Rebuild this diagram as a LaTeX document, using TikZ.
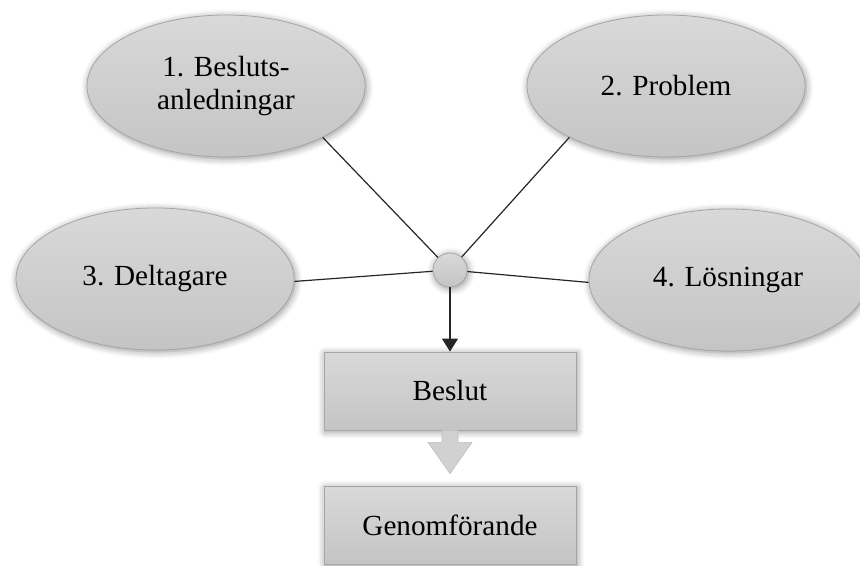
\documentclass[tikz,border=0pt]{standalone}
\usepackage{fontspec}
\setmainfont{Liberation Serif}
\usetikzlibrary{arrows.meta,calc,shapes.geometric,shadows.blur}

\begin{document}
\begin{tikzpicture}[x=0.5pt, y=-0.5pt,
  every node/.style={font=\fontsize{14.6}{16.5}\selectfont},
  soft/.style={draw=black!35, line width=0.4pt, top color=black!15, bottom color=black!23,
    blur shadow={shadow xshift=0.6pt, shadow yshift=-0.8pt, shadow blur radius=3.5pt, shadow opacity=45}},
  oval/.style={soft, ellipse, minimum width=139pt, minimum height=71pt, inner sep=0pt, align=center},
  box/.style={soft, rectangle, minimum width=126pt, minimum height=39pt},
  link/.style={draw=black!85, line width=0.6pt}]
\useasboundingbox (0,0) rectangle (860,566);
\node[oval] (anl) at (226,86) {1. Besluts-\\anledningar};
\node[oval] (prob) at (666,86) {2. Problem};
\node[oval] (delt) at (155,279) {3. Deltagare};
\node[oval] (losn) at (728,280) {4. Lösningar};
\node[soft, circle, minimum size=17pt, inner sep=0pt] (hub) at (450,270) {};
\draw[link] (anl.-28) -- (hub);
\draw[link] (prob.-152) -- (hub);
\draw[link] (delt.-1) -- (hub);
\draw[link] (losn.181) -- (hub);
\node[box] (beslut) at (450,391) {Beslut};
\node[box] (genom) at (450,525) {Genomförande};
\draw[link, -{Triangle[width=8pt,length=6.5pt]}] (hub) -- (beslut);
% block arrow between the boxes
\coordinate (tip) at ($(genom.north)+(0,6pt)$);
\fill[black!18, draw=black!25, line width=0.3pt] ($(beslut.south)+(-4pt,0)$) -- ++(0,-6pt) -- ++(-7pt,0)
  -- (tip) -- ($(beslut.south)+(11pt,-6pt)$) -- ++(-7pt,0) -- ++(0,6pt) -- cycle;
\end{tikzpicture}
\end{document}
